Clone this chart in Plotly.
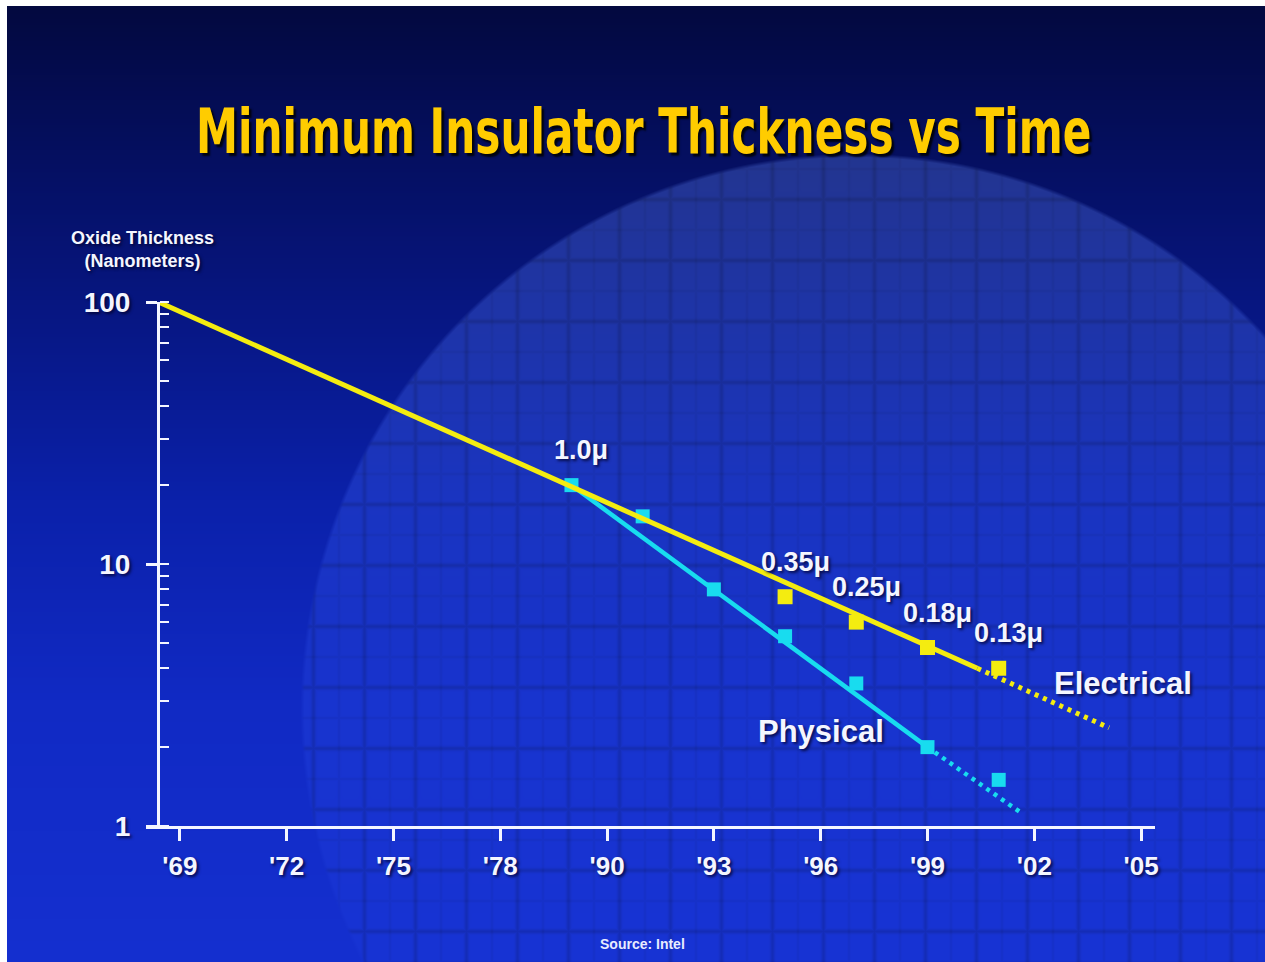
import base64
import struct
import zlib

import numpy as np
import plotly.graph_objects as go

# ---------------- data ----------------
# x axis is in "axis years": the 90s part is true calendar years, three years per tick;
# the reference labels the four left-most ticks '69 '72 '75 '78.
TICK_POS = [1978, 1981, 1984, 1987, 1990, 1993, 1996, 1999, 2002, 2005]
TICK_LABELS = ["'69", "'72", "'75", "'78", "'90", "'93", "'96", "'99", "'02", "'05"]
Y_TICKS = [1, 10, 100]
Y_TICK_LABELS = ["1", "10", "100"]

ELEC_YEARS = [1995, 1997, 1999, 2001]
ELEC_NM = [7.5, 6.0, 4.8, 4.0]
PHYS_YEARS = [1989, 1991, 1993, 1995, 1997, 1999, 2001]
PHYS_NM = [20.0, 15.2, 8.0, 5.3, 3.5, 2.0, 1.5]

ELEC_TREND_YEARS = [1977.4, 2000.4]
ELEC_TREND_NM = [100.0, 4.0]
ELEC_PROJ_YEARS = [2000.4, 2004.1]
ELEC_PROJ_NM = [4.0, 2.37]
PHYS_TREND_YEARS = [1989, 1999]
PHYS_TREND_NM = [20.0, 2.0]
PHYS_PROJ_YEARS = [1999, 2001.6]
PHYS_PROJ_NM = [2.0, 1.13]

NODE_YEARS = [1989, 1995, 1997, 1999, 2001]
NODE_NM = [20.0, 7.5, 6.0, 4.8, 4.0]
NODE_LABELS = ["1.0\u03bc", "0.35\u03bc", "0.25\u03bc", "0.18\u03bc", "0.13\u03bc"]

SERIES_LABELS = ["Electrical", "Physical"]
SERIES_LABEL_POS = [(2004.5, 3.5), (1996.0, 2.3)]

TITLE = "Minimum Insulator Thickness vs Time"
Y_TITLE = "Oxide Thickness<br>(Nanometers)"
SOURCE = "Source: Intel"

# ---------------- geometry / style ----------------
W, H = 1265, 962
ML, MR, MT, MB = 146, 110, 302, 136
PW, PH = W - ML - MR, H - MT - MB
X_RANGE = [1977.05, 2005.39]

YELLOW = "#f4ec10"
CYAN = "#18dcef"
WHITE = "#f4f6ff"
FONT = "Liberation Sans, Arial, sans-serif"
SHADOW = "2px 2px 3px rgba(0,0,40,0.75)"


def px(x):
    return (x - ML) / PW


def py(y):
    return (H - MB - y) / PH


# ---------------- background picture (gradient + wafer) ----------------
def make_background():
    yy, xx = np.mgrid[0:H, 0:W].astype(np.float64)
    stops = [0, 150, 300, 500, 700, 962]
    cols = [(3, 9, 62), (5, 15, 95), (7, 22, 128), (11, 33, 170), (17, 42, 196), (21, 48, 208)]
    img = np.zeros((H, W, 3))
    for k in range(3):
        img[:, :, k] = np.interp(yy, stops, [c[k] for c in cols])
    cx, cy, r = 855.0, 708.0, 553.0
    d = np.sqrt((xx - cx) ** 2 + (yy - cy) ** 2)
    m = np.clip((r - d) / 4.0 + 0.5, 0, 1)
    haze = np.clip(1 - (yy - 155.0) / 500.0, 0, 1)
    fade = np.clip(1 - (yy - 155.0) / 950.0, 0.15, 1)
    img += m[:, :, None] * (fade[:, :, None] * np.array([18.0, 24.0, 26.0])
                            + haze[:, :, None] * np.array([12.0, 14.0, 22.0]))
    # die grid
    pxp, pyp = 51.0, 61.0
    dx = np.abs(((xx - 925.0 + pxp / 2) % pxp) - pxp / 2)
    dy = np.abs(((yy - 260.0 + pyp / 2) % pyp) - pyp / 2)
    lines = np.maximum(np.exp(-dx ** 2 / (2 * 1.6 ** 2)), np.exp(-dy ** 2 / (2 * 1.6 ** 2)))
    dx2 = np.abs(((xx - 925.0) % pxp) - pxp / 2)
    dy2 = np.abs(((yy - 260.0) % pyp) - pyp / 2)
    sub = np.maximum(np.exp(-dx2 ** 2 / (2 * 1.0 ** 2)), np.exp(-dy2 ** 2 / (2 * 1.0 ** 2)))
    dark = 1 - m * (0.13 * lines + 0.05 * sub)
    img *= dark[:, :, None]
    img = np.clip(img, 0, 255).astype(np.uint8)
    img[:6, :, :] = 255
    img[:, :7, :] = 255
    return img


def to_png(a):
    h, w, _ = a.shape
    raw = np.zeros((h, w * 3 + 1), np.uint8)
    raw[:, 1:] = a.reshape(h, -1)
    comp = zlib.compress(raw.tobytes(), 9)

    def chunk(t, dat):
        c = struct.pack(">I", len(dat)) + t + dat
        return c + struct.pack(">I", zlib.crc32(t + dat) & 0xFFFFFFFF)

    return (b"\x89PNG\r\n\x1a\n" + chunk(b"IHDR", struct.pack(">IIBBBBB", w, h, 8, 2, 0, 0, 0))
            + chunk(b"IDAT", comp) + chunk(b"IEND", b""))


bg_uri = "data:image/png;base64," + base64.b64encode(to_png(make_background())).decode()

# ---------------- figure ----------------
fig = go.Figure()

fig.add_trace(go.Scatter(x=PHYS_TREND_YEARS, y=PHYS_TREND_NM, mode="lines",
                         line=dict(color=CYAN, width=4.5), hoverinfo="skip"))
fig.add_trace(go.Scatter(x=PHYS_PROJ_YEARS, y=PHYS_PROJ_NM, mode="lines",
                         line=dict(color=CYAN, width=4.5, dash="4px,5px"), hoverinfo="skip"))
fig.add_trace(go.Scatter(x=PHYS_YEARS, y=PHYS_NM, mode="markers", name="Physical",
                         marker=dict(symbol="square", size=14, color=CYAN, line=dict(width=0))))
fig.add_trace(go.Scatter(x=ELEC_TREND_YEARS, y=ELEC_TREND_NM, mode="lines",
                         line=dict(color=YELLOW, width=5), hoverinfo="skip"))
fig.add_trace(go.Scatter(x=ELEC_PROJ_YEARS, y=ELEC_PROJ_NM, mode="lines",
                         line=dict(color=YELLOW, width=5, dash="4px,5px"), hoverinfo="skip"))
fig.add_trace(go.Scatter(x=ELEC_YEARS, y=ELEC_NM, mode="markers", name="Electrical",
                         marker=dict(symbol="square", size=15, color=YELLOW, line=dict(width=0))))

annotations = []
for yr, v, lab in zip(NODE_YEARS, NODE_NM, NODE_LABELS):
    annotations.append(dict(x=yr, y=np.log10(v), xref="x", yref="y", text=lab, showarrow=False,
                            xshift=10, yshift=35, xanchor="center", yanchor="middle",
                            font=dict(family=FONT, size=27, color=WHITE, weight="bold", shadow=SHADOW)))
for lab, (yr, v) in zip(SERIES_LABELS, SERIES_LABEL_POS):
    annotations.append(dict(x=yr, y=np.log10(v), xref="x", yref="y", text=lab, showarrow=False,
                            xanchor="center", yanchor="middle",
                            font=dict(family=FONT, size=31, color=WHITE, weight="bold", shadow=SHADOW)))
annotations.append(dict(x=px(643), y=py(131), xref="paper", yref="paper", text=TITLE, showarrow=False,
                        xanchor="center", yanchor="middle",
                        font=dict(family="DejaVu Sans Condensed, DejaVu Sans, sans-serif",
                                  size=62, color="#ffcc00", weight="bold",
                                  shadow="3px 3px 2px rgba(0,0,0,0.85)")))
annotations.append(dict(x=px(142), y=py(250), xref="paper", yref="paper", text=Y_TITLE, showarrow=False,
                        align="center", xanchor="center", yanchor="middle",
                        font=dict(family=FONT, size=18, color=WHITE, weight="bold", shadow=SHADOW)))
annotations.append(dict(x=px(642), y=py(944), xref="paper", yref="paper", text=SOURCE, showarrow=False,
                        xanchor="center", yanchor="middle",
                        font=dict(family=FONT, size=14, color="#e8ecff", weight="bold")))

fig.update_layout(
    width=W, height=H,
    margin=dict(l=ML, r=MR, t=MT, b=MB, pad=0),
    paper_bgcolor="#0a1a80", plot_bgcolor="rgba(0,0,0,0)",
    showlegend=False,
    annotations=annotations,
    images=[dict(source=bg_uri, xref="paper", yref="paper", x=px(0), y=py(0),
                 sizex=W / PW, sizey=H / PH, xanchor="left", yanchor="top",
                 sizing="stretch", layer="below")],
    xaxis=dict(range=X_RANGE, showgrid=False, zeroline=False, showline=True, linecolor=WHITE, linewidth=3,
               tickmode="array", tickvals=TICK_POS, ticktext=TICK_LABELS,
               ticks="outside", ticklen=12, tickwidth=3, tickcolor=WHITE, ticklabelstandoff=3,
               tickfont=dict(family=FONT, size=26, color=WHITE, weight="bold", shadow=SHADOW)),
    yaxis=dict(type="log", range=[0, 2], showgrid=False, zeroline=False, showline=True,
               linecolor=WHITE, linewidth=3, anchor="free", position=px(158),
               tickmode="array", tickvals=Y_TICKS, ticktext=Y_TICK_LABELS,
               ticks="outside", ticklen=11, tickwidth=3, tickcolor=WHITE, ticklabelstandoff=10,
               minor=dict(ticks="inside", ticklen=9, tickwidth=2, tickcolor=WHITE, dtick="D1", showgrid=False),
               tickfont=dict(family=FONT, size=28, color=WHITE, weight="bold", shadow=SHADOW)),
)

# the reference title uses a heavy condensed face; squeeze the real text horizontally
POST_JS = """
var gd = document.getElementById('{plot_id}');
function squeezeTitle() {
  gd.querySelectorAll('text.annotation-text').forEach(function (t) {
    if (t.textContent.indexOf('Minimum Insulator') === 0) {
      t.style.transformBox = 'fill-box';
      t.style.transformOrigin = 'center';
      t.style.transform = 'scaleX(0.757)';
    }
  });
}
squeezeTitle();
gd.on('plotly_afterplot', squeezeTitle);
"""

fig.write_html("out.html", post_script=POST_JS)
